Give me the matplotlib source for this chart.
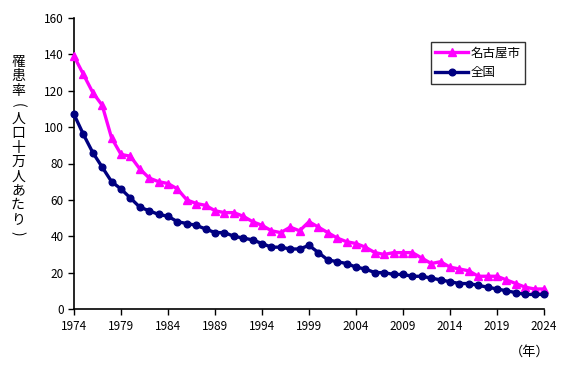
import numpy as np
import matplotlib
matplotlib.use("Agg")
import matplotlib.pyplot as plt

plt.rcParams['font.family'] = ['Noto Sans CJK JP', 'DejaVu Sans']

years = list(range(1974, 2025))
nagoya = [139, 129, 119, 112, 94, 85, 84, 77, 72, 70,
          69, 66, 60, 58, 57, 54, 53, 53, 51, 48,
          46, 43, 42, 45, 43, 48, 45, 42, 39, 37,
          36, 34, 31, 30, 31, 31, 31, 28, 25, 26,
          23, 22, 21, 18, 18, 18, 16, 14, 12, 11,
          11]
national = [107, 96, 86, 78, 70, 66, 61, 56, 54, 52,
            51, 48, 47, 46, 44, 42, 42, 40, 39, 38,
            36, 34, 34, 33, 33, 35, 31, 27, 26, 25,
            23, 22, 20, 20, 19, 19, 18, 18, 17, 16,
            15, 14, 14, 13, 12, 11, 10, 9, 8, 8,
            8]
series_names = ['名古屋市', '全国']
xticks = list(range(1974, 2025, 5))
yticks = list(range(0, 161, 20))
ylabel_chars = list('罹患率(人口十万人あたり)')

fig = plt.figure(figsize=(5.66, 3.65), dpi=100)
ax = fig.add_axes([74 / 566, 56 / 365, 470 / 566, 291 / 365])

ax.plot(years, nagoya, color='#FF00FF', lw=2.4, marker='^', ms=6,
        label=series_names[0], clip_on=False, zorder=3)
ax.plot(years, national, color='#000080', lw=2.4, marker='o', ms=4.8,
        label=series_names[1], clip_on=False, zorder=3)

ax.set_xlim(1974, 2024)
ax.set_ylim(0, 160)
ax.set_xticks(xticks)
ax.set_yticks(yticks)
ax.tick_params(direction='out', length=4, width=1, labelsize=8.5, colors='black')
ax.tick_params(axis='x', pad=4)
for s in ['top', 'right']:
    ax.spines[s].set_visible(False)
for s in ['left', 'bottom']:
    ax.spines[s].set_linewidth(1.2)

leg = ax.legend(loc='upper left', bbox_to_anchor=(357 / 470, 1 - 24 / 291),
                fontsize=9, frameon=True, fancybox=False, edgecolor='black',
                handlelength=2.6, borderpad=0.35, labelspacing=0.55,
                handletextpad=0.2, borderaxespad=0)
leg.get_frame().set_linewidth(1.0)

# vertical y-axis label, one character per line, brackets turned
top, step = 62, 14.3
for i, ch in enumerate(ylabel_chars):
    rot = -90 if ch in '()' else 0
    fig.text(18 / 566, 1 - (top + i * step) / 365, ch, ha='center', va='center',
             fontsize=10, rotation=rot, rotation_mode='anchor')
fig.text(530 / 566, 1 - 352 / 365, '（年）', ha='center', va='center', fontsize=9.5)

fig.savefig('out.png', dpi=100)
